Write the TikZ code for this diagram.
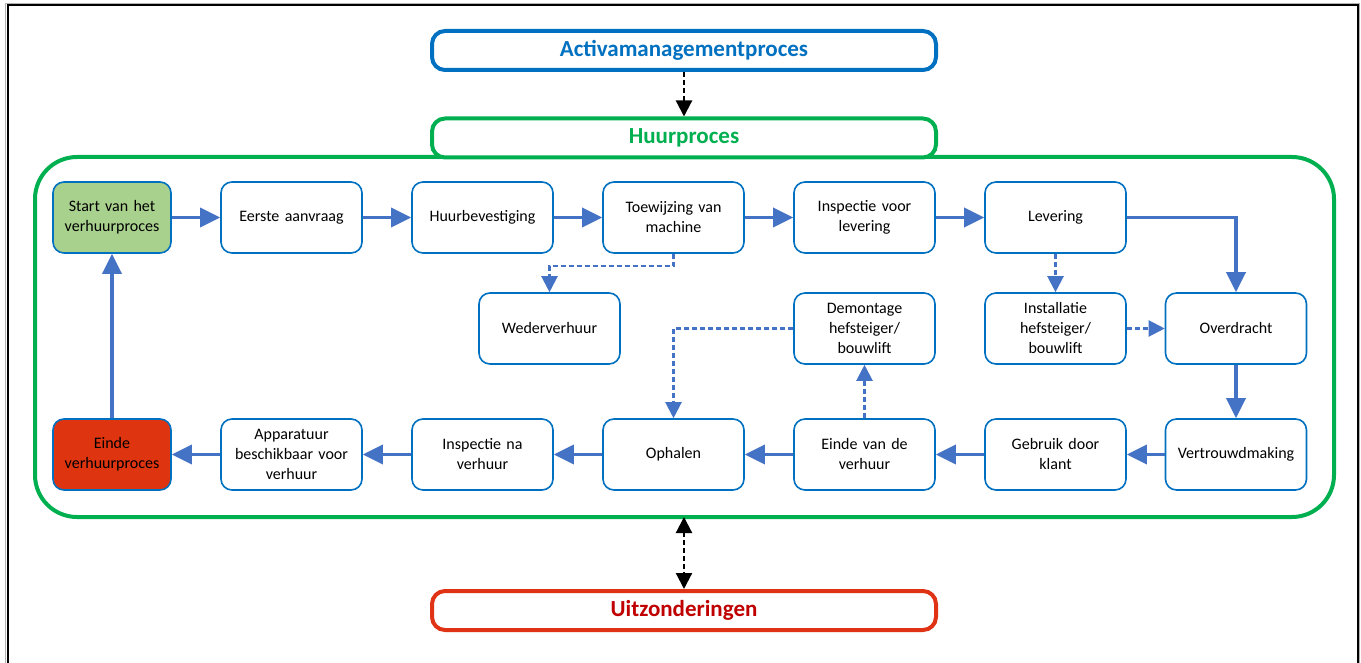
\documentclass[tikz,border=0pt]{standalone}
\usepackage{fontspec}
\setmainfont{Carlito}
\usetikzlibrary{arrows.meta}
\definecolor{nodeblue}{RGB}{0,112,192}
\definecolor{flowblue}{RGB}{68,114,196}
\definecolor{procgreen}{RGB}{0,176,80}
\definecolor{startgreen}{RGB}{169,209,142}
\definecolor{endred}{RGB}{222,52,16}
\definecolor{excred}{RGB}{224,50,20}
\definecolor{exctext}{RGB}{192,0,0}
\tikzset{
  stepbox/.style={draw=nodeblue, line width=1.6pt, rounded corners=11pt, fill=white,
    minimum width=141pt, minimum height=71pt, align=center, inner sep=2pt,
    font=\fontsize{16}{20}\selectfont, text width=136pt},
  headbox/.style={line width=4pt, rounded corners=13pt, fill=white,
    minimum width=504pt, minimum height=39pt, font=\fontsize{23}{27}\selectfont\bfseries},
  flow/.style={draw=flowblue, line width=3.6pt, -{Triangle[length=20pt,width=19pt]}},
  side/.style={draw=flowblue, line width=2.2pt, dash pattern=on 5pt off 3pt,
    -{Triangle[length=16pt,width=16pt]}},
  link/.style={draw=black, line width=2.2pt, dash pattern=on 5pt off 3pt},
}
\begin{document}
\begin{tikzpicture}[x=1pt,y=-1pt]
\useasboundingbox (0,0) rectangle (1361,663);
\fill[white] (0,0) rectangle (1361,663);
% outer frame
\draw[gray!60, line width=1.5pt] (5.5,680) -- (5.5,3.5) -- (1359.5,3.5) -- (1359.5,680);
\draw[black, line width=2pt] (7.5,680) -- (7.5,5.5) -- (1357.5,5.5) -- (1357.5,680);

% process frame
\draw[procgreen, line width=4pt, rounded corners=42pt] (35,157) rectangle (1334,517);

% header boxes
\node[headbox, draw=nodeblue, text=nodeblue] (am) at (684,50.5) {Activamanagementproces};
\node[headbox, draw=procgreen, text=procgreen] (hp) at (684,138) {Huurproces};
\node[headbox, draw=excred, text=exctext] (ex) at (684,610.5) {Uitzonderingen};
\coordinate (frameb) at (684,517);

% row 1
\node[stepbox, fill=startgreen, minimum width=118pt, text width=114pt] (start) at (112,217.5) {Start van het\\verhuurproces};
\node[stepbox] (eerste) at (291.5,217.5) {Eerste aanvraag};
\node[stepbox] (bevest) at (482.5,217.5) {Huurbevestiging};
\node[stepbox] (toew) at (673.5,217.5) {Toewijzing van\\machine};
\node[stepbox] (inspv) at (864.5,217.5) {Inspectie voor\\levering};
\node[stepbox] (lev) at (1055.5,217.5) {Levering};

% row 2
\node[stepbox] (weder) at (549.5,328.5) {Wederverhuur};
\node[stepbox] (demon) at (864.5,328.5) {Demontage\\hefsteiger/\\bouwlift};
\node[stepbox] (inst) at (1055.5,328.5) {Installatie\\hefsteiger/\\bouwlift};
\node[stepbox] (over) at (1236,328.5) {Overdracht};

% row 3
\node[stepbox, fill=endred, minimum width=118pt, text width=114pt] (einde) at (112,454.5) {Einde\\verhuurproces};
\node[stepbox] (appar) at (291.5,454.5) {Apparatuur\\beschikbaar voor\\verhuur};
\node[stepbox] (inspn) at (482.5,454.5) {Inspectie na\\verhuur};
\node[stepbox] (ophal) at (673.5,454.5) {Ophalen};
\node[stepbox] (eindv) at (864.5,454.5) {Einde van de\\verhuur};
\node[stepbox] (gebr) at (1055.5,454.5) {Gebruik door\\klant};
\node[stepbox] (vertr) at (1236,454.5) {Vertrouwdmaking};

% main flow
\draw[flow] (start) -- (eerste);
\draw[flow] (eerste) -- (bevest);
\draw[flow] (bevest) -- (toew);
\draw[flow] (toew) -- (inspv);
\draw[flow] (inspv) -- (lev);
\draw[flow] (lev.east) -| (over.north);
\draw[flow] (over) -- (vertr);
\draw[flow] (vertr) -- (gebr);
\draw[flow] (gebr) -- (eindv);
\draw[flow] (eindv) -- (ophal);
\draw[flow] (ophal) -- (inspn);
\draw[flow] (inspn) -- (appar);
\draw[flow] (appar) -- (einde);
\draw[flow] (einde) -- (start);

% side branches
\draw[side] (toew.south) -- ++(0,12) -| (weder.north);
\draw[side] (lev) -- (inst);
\draw[side] (inst) -- (over);
\draw[side] (eindv) -- (demon);
\draw[side] (demon.west) -| (ophal.north);

% links to the surrounding processes
\draw[link, -{Triangle[length=16pt,width=16pt]}] (am) -- (hp);
\draw[link, {Triangle[length=16pt,width=16pt]}-{Triangle[length=16pt,width=16pt]}] (frameb) -- (ex);
\end{tikzpicture}
\end{document}
